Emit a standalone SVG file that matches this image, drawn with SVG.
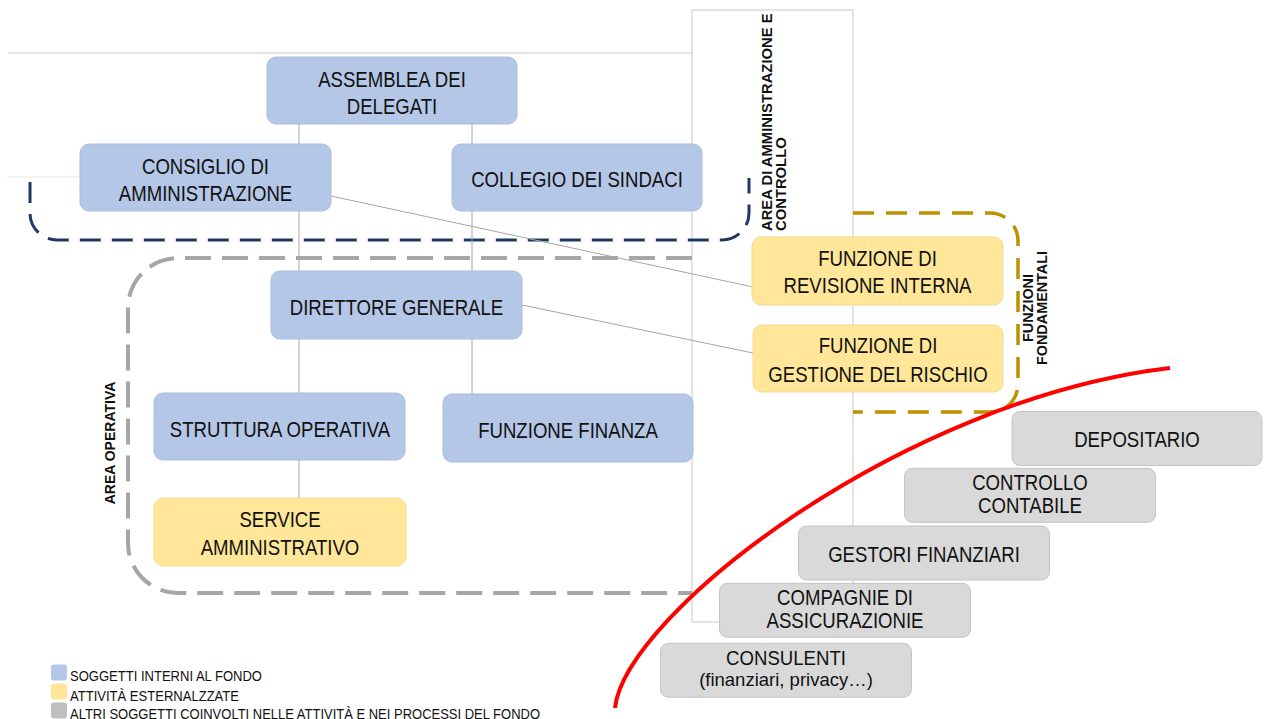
<svg xmlns="http://www.w3.org/2000/svg" width="1264" height="719" viewBox="0 0 1264 719">
<style>
.blue{fill:#B4C7E7;stroke:#A9BDE0;stroke-width:1}
.yel{fill:#FFE699;stroke:#F3DA8E;stroke-width:1}
.gry{fill:#D9D9D9;stroke:#C4C4C4;stroke-width:1}
.t{font-family:"Liberation Sans",Arial,sans-serif;font-size:22px;fill:#111;text-anchor:middle}
.lab{font-family:"Liberation Sans",Arial,sans-serif;font-weight:bold;fill:#111}
.leg{font-family:"Liberation Sans",Arial,sans-serif;font-size:15px;fill:#111}
.thin{fill:none;stroke:#C8C8C8;stroke-width:1}
.conn{fill:none;stroke:#A6A6A6;stroke-width:1}
</style>
<rect width="1264" height="719" fill="#FFFFFF"/>
<g id="frame">
<line class="thin" x1="8" y1="53" x2="692" y2="53"/>
<rect class="thin" x="692" y="10" width="161" height="612"/>
<line x1="7" y1="177" x2="80" y2="177" stroke="#E6E6E6" stroke-width="1"/>
</g>
<g id="areas">
<path d="M30,182 V213 A27,27 0 0 0 57,240 H722 A27,27 0 0 0 749,213 V178" fill="none" stroke="#203864" stroke-width="3" stroke-dasharray="21 11"/>
<path d="M692,258 H178 A50,50 0 0 0 128,308 V543 A50,50 0 0 0 178,593 H692" fill="none" stroke="#A6A6A6" stroke-width="4" stroke-dasharray="26 11"/>
<path d="M853,213 H990 A28,28 0 0 1 1018,241 V384 A28,28 0 0 1 990,412 H853" fill="none" stroke="#BF9000" stroke-width="3.5" stroke-dasharray="21 12"/>
<text class="lab" font-size="14.8" transform="translate(772,231) rotate(-90)">AREA DI AMMINISTRAZIONE E</text>
<text class="lab" font-size="14.8" transform="translate(786,231) rotate(-90)">CONTROLLO</text>
<text class="lab" font-size="14.4" text-anchor="middle" transform="translate(1033,308) rotate(-90)">FUNZIONI</text>
<text class="lab" font-size="14.4" text-anchor="middle" transform="translate(1047,308) rotate(-90)">FONDAMENTALI</text>
<text class="lab" font-size="14" text-anchor="middle" transform="translate(115,443) rotate(-90)">AREA OPERATIVA</text>
</g>
<g id="connectors">
<line class="conn" x1="299" y1="124" x2="299" y2="498"/>
<line class="conn" x1="472" y1="124" x2="472" y2="394"/>
<line class="conn" x1="331" y1="196" x2="753" y2="287"/>
<line class="conn" x1="522" y1="305" x2="753" y2="353"/>
</g>
<g id="assemblea"><rect class="blue" x="267" y="57" width="250" height="67" rx="9"/>
<text class="t" transform="translate(392,87.3) scale(0.845,1)"><tspan x="0">ASSEMBLEA DEI</tspan><tspan x="0" dy="26.7">DELEGATI</tspan></text></g>
<g id="consiglio"><rect class="blue" x="80" y="144" width="251" height="67" rx="9"/>
<text class="t" transform="translate(205.5,173.5) scale(0.845,1)"><tspan x="0">CONSIGLIO DI</tspan><tspan x="0" dy="27.5">AMMINISTRAZIONE</tspan></text></g>
<g id="collegio"><rect class="blue" x="452" y="144" width="250" height="67" rx="9"/>
<text class="t" transform="translate(577,187.3) scale(0.845,1)">COLLEGIO DEI SINDACI</text></g>
<g id="direttore"><rect class="blue" x="271" y="271" width="251" height="68" rx="9"/>
<text class="t" transform="translate(396.5,315) scale(0.845,1)">DIRETTORE GENERALE</text></g>
<g id="struttura"><rect class="blue" x="154" y="393" width="251" height="67" rx="9"/>
<text class="t" transform="translate(280,436.5) scale(0.845,1)">STRUTTURA OPERATIVA</text></g>
<g id="finanza"><rect class="blue" x="443" y="394" width="250" height="68" rx="9"/>
<text class="t" transform="translate(568,438) scale(0.845,1)">FUNZIONE FINANZA</text></g>
<g id="service"><rect class="yel" x="154" y="498" width="252" height="68" rx="9"/>
<text class="t" transform="translate(280,527.3) scale(0.845,1)"><tspan x="0">SERVICE</tspan><tspan x="0" dy="27.7">AMMINISTRATIVO</tspan></text></g>
<g id="revisione"><rect class="yel" x="752" y="237" width="251" height="68" rx="9"/>
<text class="t" transform="translate(877.5,265.7) scale(0.845,1)"><tspan x="0">FUNZIONE DI</tspan><tspan x="0" dy="27.6">REVISIONE INTERNA</tspan></text></g>
<g id="rischio"><rect class="yel" x="753" y="325" width="250" height="67" rx="9"/>
<text class="t" transform="translate(878,353.3) scale(0.845,1)"><tspan x="0">FUNZIONE DI</tspan><tspan x="0" dy="28.4">GESTIONE DEL RISCHIO</tspan></text></g>
<g id="depositario"><rect class="gry" x="1012" y="411.5" width="250" height="54" rx="8"/>
<text class="t" transform="translate(1137,447.3) scale(0.845,1)">DEPOSITARIO</text></g>
<g id="controllo"><rect class="gry" x="904.5" y="468.3" width="251" height="54" rx="8"/>
<text class="t" transform="translate(1030,490) scale(0.845,1)"><tspan x="0">CONTROLLO</tspan><tspan x="0" dy="23.3">CONTABILE</tspan></text></g>
<g id="gestori"><rect class="gry" x="798.5" y="526" width="251" height="54" rx="8"/>
<text class="t" transform="translate(924,561.7) scale(0.845,1)">GESTORI FINANZIARI</text></g>
<g id="compagnie"><rect class="gry" x="719.5" y="583.3" width="251" height="54" rx="8"/>
<text class="t" transform="translate(845,605) scale(0.845,1)"><tspan x="0">COMPAGNIE DI</tspan><tspan x="0" dy="23.3">ASSICURAZIONIE</tspan></text></g>
<g id="consulenti"><rect class="gry" x="660.5" y="643.3" width="251" height="54" rx="8"/>
<text class="t" style="font-size:20px" transform="translate(786,664.5) scale(0.93,1)">CONSULENTI</text>
<text class="t" style="font-size:18.5px" transform="translate(786,686)">(finanziari, privacy…)</text></g>
<path id="curve" d="M615,708 C625,615 900,400 1170,368" fill="none" stroke="#FF0000" stroke-width="4"/>
<g id="legend">
<rect x="51" y="664.5" width="16" height="16" rx="3" fill="#B4C7E7"/>
<rect x="51" y="683.5" width="16" height="16" rx="3" fill="#FFE699"/>
<rect x="51" y="702.5" width="16" height="16" rx="3" fill="#BFBFBF"/>
<text class="leg" x="70" y="681" textLength="192" lengthAdjust="spacingAndGlyphs">SOGGETTI INTERNI AL FONDO</text>
<text class="leg" x="70" y="700.5" textLength="169" lengthAdjust="spacingAndGlyphs">ATTIVITÀ ESTERNALZZATE</text>
<text class="leg" x="70" y="718.5" textLength="470" lengthAdjust="spacingAndGlyphs">ALTRI SOGGETTI COINVOLTI NELLE ATTIVITÀ E NEI PROCESSI DEL FONDO</text>
</g>
</svg>
